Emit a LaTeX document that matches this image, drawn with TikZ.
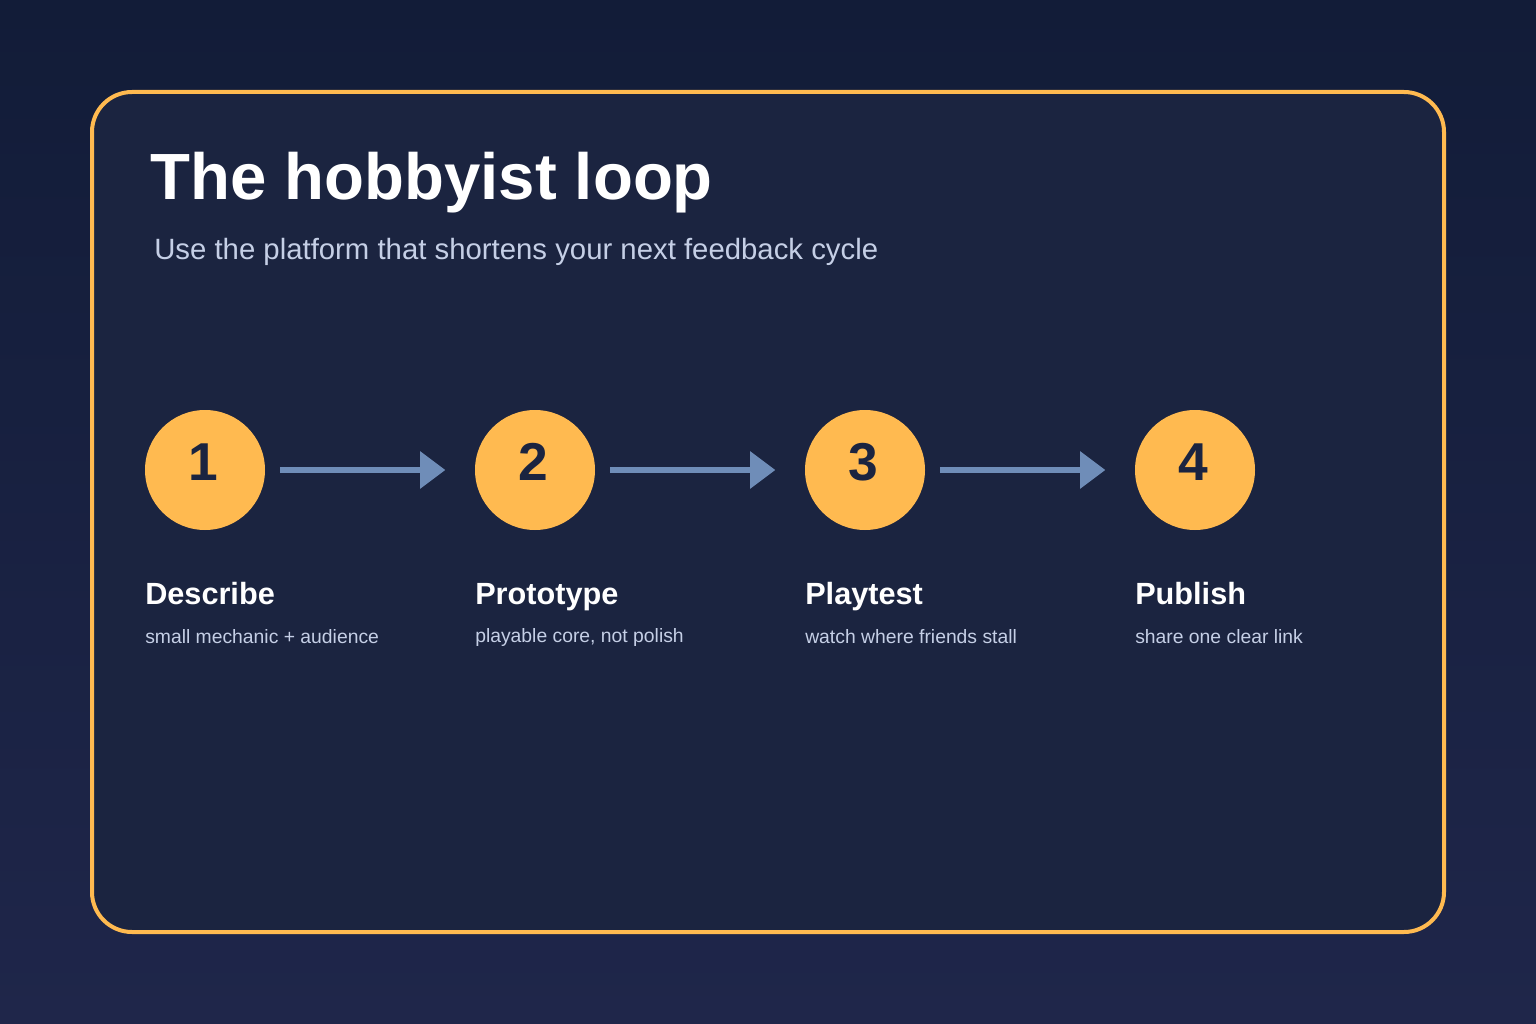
\documentclass[tikz,border=0pt]{standalone}
\usepackage{fontspec}
\setmainfont{Liberation Sans}
\usetikzlibrary{arrows.meta}
\definecolor{bgtop}{HTML}{121C38}
\definecolor{bgbot}{HTML}{1F264A}
\definecolor{panel}{HTML}{1B2440}
\definecolor{gold}{HTML}{FFBA50}
\definecolor{steel}{HTML}{6F8DB8}
\definecolor{soft}{HTML}{C5CFE6}
\tikzset{
  stage/.style={circle,fill=gold,minimum size=90pt,inner sep=0pt},
  num/.style={text=panel,font=\fontsize{40}{40}\selectfont\bfseries},
  head/.style={anchor=base west,text=white,font=\fontsize{23}{23}\selectfont\bfseries,inner sep=0pt},
  note/.style={anchor=west,text=soft,font=\fontsize{14.5}{14.5}\selectfont,inner sep=0pt},
  flow/.style={draw=steel,line width=4.5pt,-{Triangle[length=19pt,width=27pt]},shorten <=11pt,shorten >=22pt}
}
\begin{document}
\begin{tikzpicture}[x=0.75pt,y=-0.75pt]
  % background
  \shade[top color=bgtop,bottom color=bgbot] (0,0) rectangle (1536,1024);
  \useasboundingbox (0,0) rectangle (1536,1024);
  \draw[gold,line width=3pt,fill=panel,rounded corners=30pt] (92,92) rectangle (1444,932);
  % heading
  \node[anchor=west,text=white,inner sep=0pt,font=\fontsize{49}{49}\selectfont\bfseries] (title) at (150,183) {The hobbyist loop};
  \node[anchor=west,text=soft,inner sep=0pt,font=\fontsize{22}{22}\selectfont] (sub) at (154,252) {Use the platform that shortens your next feedback cycle};
  % steps
  \foreach \i/\x/\h/\t in {1/205/Describe/small mechanic + audience,
                           2/535/Prototype/playable core{,} not polish,
                           3/865/Playtest/watch where friends stall,
                           4/1195/Publish/share one clear link}{
    \node[stage] (s\i) at (\x,470) {};
    \node[num] at (\x-2,462) {\i};
    \node[head] (h\i) at (\x-60,604) {\h};
    \node[note] (n\i) at (\x-60,637) {\t};
  }
  \foreach \a/\b in {1/2,2/3,3/4}
    \draw[flow] (s\a) -- (s\b);
\end{tikzpicture}
\end{document}
